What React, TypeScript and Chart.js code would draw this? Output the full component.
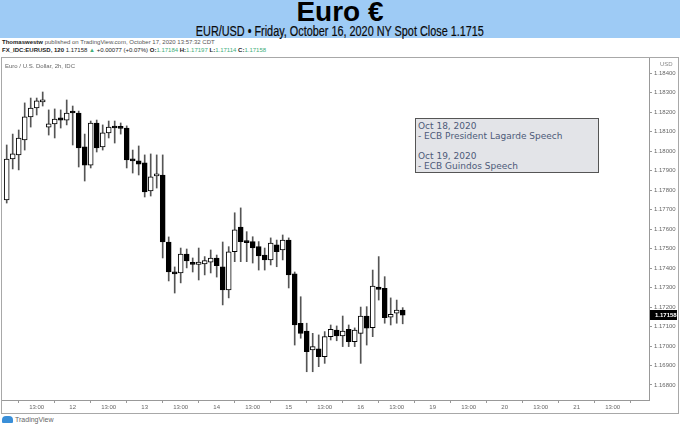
import React, { useEffect, useRef } from "react";
import { Chart, registerables } from "chart.js";

Chart.register(...registerables);

// OHLC values of the 2h EUR/USD candles (bar index = position in arrays)
const opens = [
  1.1775, 1.1796, 1.17981, 1.18058, 1.18176, 1.18222, 1.18253, 1.18124, 1.1814, 1.18171,
  1.1816, 1.18201, 1.18196, 1.18022, 1.17929, 1.18145, 1.18022, 1.18094, 1.18124, 1.18119,
  1.18119, 1.1796, 1.1795, 1.1794, 1.17796, 1.17873, 1.17878, 1.17534, 1.1738, 1.17375,
  1.17472, 1.17424, 1.17419, 1.17421, 1.17431, 1.17452, 1.17407, 1.17288, 1.17484, 1.17611,
  1.17539, 1.17536, 1.1751, 1.17467, 1.17442, 1.17519, 1.17493, 1.17544, 1.1737, 1.17117,
  1.17077, 1.1698, 1.16985, 1.16945, 1.17048, 1.17082, 1.17052, 1.17086, 1.17022, 1.17065,
  1.17154, 1.17094, 1.17302, 1.17296, 1.17148, 1.17168, 1.17184,
];
const highs = [
  1.18032, 1.18088, 1.18109, 1.18248, 1.18273, 1.18273, 1.18304, 1.18212, 1.18217, 1.18212,
  1.18263, 1.18232, 1.18206, 1.18088, 1.18155, 1.1816, 1.18135, 1.18155, 1.18155, 1.18145,
  1.1813, 1.18006, 1.18027, 1.17981, 1.17986, 1.17981, 1.17981, 1.1756, 1.17406, 1.17503,
  1.17498, 1.17452, 1.17503, 1.17459, 1.17493, 1.17467, 1.17534, 1.1751, 1.17684, 1.17709,
  1.17587, 1.17561, 1.17536, 1.17503, 1.17555, 1.17544, 1.1757, 1.17555, 1.1738, 1.17253,
  1.17117, 1.17065, 1.17057, 1.17074, 1.17108, 1.17103, 1.17154, 1.17108, 1.17093, 1.172,
  1.17202, 1.1739, 1.17459, 1.17356, 1.17247, 1.17236, 1.17197,
];
const lows = [
  1.17734, 1.17909, 1.17904, 1.18006, 1.18124, 1.18186, 1.18232, 1.18083, 1.18068, 1.18119,
  1.18135, 1.18032, 1.17919, 1.17847, 1.17914, 1.17996, 1.18006, 1.18068, 1.18042, 1.18088,
  1.17914, 1.17888, 1.17878, 1.17765, 1.1777, 1.17811, 1.17452, 1.17334, 1.17272, 1.17324,
  1.17401, 1.1738, 1.17339, 1.17365, 1.17375, 1.17354, 1.17211, 1.17247, 1.17433, 1.17433,
  1.17433, 1.17426, 1.1739, 1.1739, 1.17416, 1.17407, 1.17442, 1.17298, 1.17005, 1.1704,
  1.16868, 1.16868, 1.16894, 1.16911, 1.17031, 1.17027, 1.16997, 1.16997, 1.16997, 1.16911,
  1.17005, 1.17048, 1.17236, 1.17117, 1.17108, 1.17117, 1.17114,
];
const closes = [
  1.1796, 1.17986, 1.18068, 1.18176, 1.18222, 1.18258, 1.18258, 1.1814, 1.18165, 1.1816,
  1.18196, 1.18196, 1.18017, 1.17929, 1.18145, 1.18017, 1.18094, 1.18124, 1.18119, 1.18117,
  1.17955, 1.1795, 1.17934, 1.17791, 1.17868, 1.17878, 1.17534, 1.1738, 1.1737, 1.17472,
  1.17437, 1.17419, 1.17431, 1.17438, 1.17452, 1.17412, 1.17288, 1.17484, 1.17596, 1.17536,
  1.17531, 1.17503, 1.17462, 1.17442, 1.17529, 1.17484, 1.17544, 1.17365, 1.17108, 1.17065,
  1.16971, 1.16997, 1.16945, 1.17048, 1.17086, 1.17052, 1.17077, 1.17022, 1.17082, 1.17154,
  1.17091, 1.17308, 1.17291, 1.17145, 1.17163, 1.17185, 1.17158,
];

const xTickPositions = [5, 11, 17, 23, 29, 35, 41, 47, 53, 59, 65, 71, 77, 83, 89, 95, 101];
const xTickLabels = [
  "13:00", "12", "13:00", "13", "13:00", "14", "13:00", "15", "13:00", "16",
  "13:00", "19", "13:00", "20", "13:00", "21", "13:00",
];
const yTickValues = [
  1.168, 1.169, 1.17, 1.171, 1.172, 1.173, 1.174, 1.175, 1.176, 1.177,
  1.178, 1.179, 1.18, 1.181, 1.182, 1.183, 1.184,
];
const lastPrice = 1.17158;

const X_MIN = -0.783;
const X_MAX = 107.05;
const Y_MIN = 1.167229;
const Y_MAX = 1.184785;

const FONT = "'Liberation Sans', Arial, sans-serif";

export default function App() {
  const ref = useRef<HTMLCanvasElement>(null);

  useEffect(() => {
    document.body.style.margin = "0";
    const idx = opens.map((_, i) => i);
    const wicks = idx.map((i) => ({ x: i, y: [lows[i], highs[i]] }));
    const bodies = idx.map((i) => ({
      x: i,
      y: [Math.min(opens[i], closes[i]), Math.max(opens[i], closes[i])],
    }));
    const bodyColors = idx.map((i) => (closes[i] >= opens[i] ? "#ffffff" : "#000000"));

    const priceLabel = {
      id: "priceLabel",
      afterDraw(chart: any) {
        const { ctx, chartArea, scales } = chart;
        const y = scales.y.getPixelForValue(lastPrice);
        ctx.save();
        ctx.fillStyle = "#000";
        ctx.fillRect(chartArea.right + 1, Math.round(y) - 5, chart.width - chartArea.right - 2, 10);
        ctx.fillStyle = "#fff";
        ctx.font = `bold 6px ${FONT}`;
        ctx.textBaseline = "middle";
        ctx.textAlign = "left";
        ctx.fillText(lastPrice.toFixed(5), chartArea.right + 6, Math.round(y));
        ctx.restore();
      },
    };

    const chart = new Chart(ref.current as HTMLCanvasElement, {
      type: "bar",
      data: {
        datasets: [
          {
            data: wicks as any,
            backgroundColor: "#555555",
            barThickness: 1,
            grouped: false,
            order: 2,
          } as any,
          {
            data: bodies as any,
            backgroundColor: bodyColors,
            borderColor: "#000000",
            borderWidth: 1,
            borderSkipped: false,
            barThickness: 5,
            minBarLength: 2,
            grouped: false,
            order: 1,
          } as any,
        ],
      },
      options: {
        animation: false,
        responsive: false,
        maintainAspectRatio: false,
        layout: { padding: 0 },
        plugins: { legend: { display: false }, tooltip: { enabled: false } },
        scales: {
          x: {
            type: "linear",
            min: X_MIN,
            max: X_MAX,
            offset: false,
            afterBuildTicks: (s: any) => {
              s.ticks = xTickPositions.map((v) => ({ value: v }));
            },
            afterFit: (s: any) => {
              s.height = 13;
              s.paddingLeft = 0;
              s.paddingRight = 0;
            },
            ticks: {
              autoSkip: false,
              maxRotation: 0,
              padding: 1,
              color: "#666",
              font: { size: 6, family: FONT },
              callback: (_v: any, i: number) => xTickLabels[i],
            },
            grid: { drawOnChartArea: false, drawTicks: true, tickLength: 3, color: "#999" },
            border: { color: "#999" },
          },
          y: {
            type: "linear",
            position: "right",
            min: Y_MIN,
            max: Y_MAX,
            afterBuildTicks: (s: any) => {
              s.ticks = yTickValues.map((v) => ({ value: v }));
            },
            afterFit: (s: any) => {
              s.width = 29;
              s.paddingTop = 0;
              s.paddingBottom = 0;
            },
            ticks: {
              autoSkip: false,
              padding: 2,
              color: "#666",
              font: { size: 6, family: FONT },
              callback: (v: any) => Number(v).toFixed(5),
            },
            grid: { drawOnChartArea: false, drawTicks: true, tickLength: 3, color: "#999" },
            border: { color: "#999" },
          },
        },
      },
      plugins: [priceLabel],
    } as any);
    return () => chart.destroy();
  }, []);

  const green = "#3fae7a";
  const small: React.CSSProperties = { fontFamily: FONT, fontSize: 6, color: "#555", whiteSpace: "nowrap" };

  return (
    <div style={{ position: "fixed", left: 0, top: 0, width: 680, height: 429, background: "#fff", overflow: "hidden" }}>
      <div style={{ position: "absolute", left: 0, top: 0, width: 680, height: 38, background: "#9ecbf5" }}>
        <div style={{ position: "absolute", left: 0, top: -3, width: 680, textAlign: "center", fontFamily: FONT, fontWeight: "bold", fontSize: 28, lineHeight: "30px", color: "#000" }}>
          Euro €
        </div>
        <div style={{ position: "absolute", left: 0, top: 22, width: 680, textAlign: "center" }}>
          <span
            style={{
              display: "inline-block",
              transform: "scaleX(0.775)",
              transformOrigin: "center",
              fontFamily: FONT,
              fontSize: 14,
              lineHeight: "14px",
              color: "#0a0a0a",
              whiteSpace: "nowrap",
              WebkitTextStroke: "0.2px #0a0a0a",
            }}
          >
            EUR/USD • Friday, October 16, 2020 NY Spot Close 1.1715
          </span>
        </div>
      </div>
      <div style={{ ...small, position: "absolute", left: 2, top: 39, lineHeight: "7px" }}>
        <b style={{ color: "#222" }}>Thomaswestw</b> published on TradingView.com, October 17, 2020 13:57:32 CDT
      </div>
      <div style={{ ...small, position: "absolute", left: 2, top: 47, lineHeight: "7px", color: "#222" }}>
        <b>FX_IDC:EURUSD, 120</b> 1.17158 <span style={{ color: green }}>▲</span> +0.00077 (+0.07%) <b>O:</b>
        <span style={{ color: green }}>1.17184</span> <b>H:</b><span style={{ color: green }}>1.17197</span> <b>L:</b>
        <span style={{ color: green }}>1.17114</span> <b>C:</b><span style={{ color: green }}>1.17158</span>
      </div>
      <div style={{ position: "absolute", left: 1, top: 57, width: 676, height: 355, border: "1px solid #a8a8a8" }}>
        <canvas ref={ref} width={676} height={355} style={{ display: "block" }} />
        <div style={{ ...small, position: "absolute", left: 3, top: 5, color: "#666" }}>Euro / U.S. Dollar, 2h, IDC</div>
        <div style={{ ...small, position: "absolute", left: 658, top: 3, color: "#888" }}>USD</div>
      </div>
      <div
        style={{
          position: "absolute",
          left: 415,
          top: 118,
          width: 180,
          height: 51,
          background: "#e3e4e8",
          border: "1.5px solid #555",
          fontFamily: "'DejaVu Sans', Verdana, sans-serif",
          fontSize: 9,
          lineHeight: "10px",
          color: "#4d5a78",
          padding: "2px 0 0 2px",
          boxSizing: "content-box",
          whiteSpace: "pre",
        }}
      >
        {"Oct 18, 2020\n- ECB President Lagarde Speech\n\nOct 19, 2020\n- ECB Guindos Speech"}
      </div>
      <div style={{ position: "absolute", left: 2, top: 416, display: "flex", alignItems: "center", gap: 2 }}>
        <div style={{ width: 11, height: 7, background: "#3a8fd8", borderRadius: "4px 4px 1px 1px" }} />
        <span style={{ fontFamily: FONT, fontSize: 7, color: "#666" }}>TradingView</span>
      </div>
    </div>
  );
}
